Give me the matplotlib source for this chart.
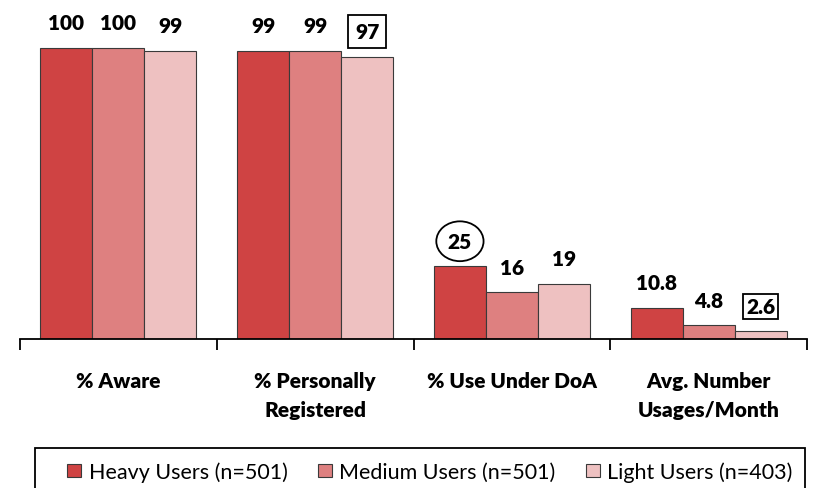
"""
Awareness / usage bar chart by user segment.
"""

import matplotlib
matplotlib.use("Agg")
import matplotlib.pyplot as plt
from matplotlib.patches import Rectangle
import numpy as np

plt.rcParams['font.family'] = ['Lato', 'DejaVu Sans']

categories = ['% Aware', '% Personally\nRegistered', '% Use Under DoA', 'Avg. Number\nUsages/Month']
series_names = ['Heavy Users (n=501)', 'Medium Users (n=501)', 'Light Users (n=403)']
heavy = [100, 99, 25, 10.8]
medium = [100, 99, 16, 4.8]
light = [99, 97, 19, 2.6]
value_text = [['100', '99', '25', '10.8'],
              ['100', '99', '16', '4.8'],
              ['99', '97', '19', '2.6']]
# (series index, category index) -> highlight style
highlights = {(0, 2): 'ellipse,pad=0.22', (2, 1): 'square,pad=0.33', (2, 3): 'square,pad=0.15'}

colors = ['#CF4343', '#DE8080', '#EEC1C1']

W, H = 817, 489
fig = plt.figure(figsize=(W / 100, H / 100), dpi=100)
ax = fig.add_axes([20 / W, (H - 340) / H, (807 - 20) / W, 340 / H])

x = np.arange(len(categories))
bw = 0.264
for i, vals in enumerate([heavy, medium, light]):
    bars = ax.bar(x + (i - 1) * bw, vals, bw, color=colors[i], edgecolor='#3a3a3a',
                  linewidth=0.8, label=series_names[i], zorder=2)
    for j, b in enumerate(bars):
        style = highlights.get((i, j))
        bbox = None
        if style:
            bbox = dict(boxstyle=style, facecolor='white', edgecolor='black', linewidth=1.3)
        ax.annotate(value_text[i][j], (b.get_x() + b.get_width() / 2, b.get_height()),
                    xytext=(0, 18), textcoords='offset points', ha='center', va='center',
                    fontsize=15, fontweight='heavy', bbox=bbox)

ax.set_xlim(-0.5, 3.5)
ax.set_ylim(0, 340 / 2.91)
for s in ['top', 'right', 'left']:
    ax.spines[s].set_visible(False)
ax.spines['bottom'].set_linewidth(1.3)
ax.set_yticks([])

# boundary ticks without labels, category names as minor ticks
ax.set_xticks(np.arange(-0.5, 4, 1))
ax.set_xticklabels([])
ax.tick_params(axis='x', which='major', length=8, width=1.3, direction='out')
ax.set_xticks(x, minor=True)
ax.set_xticklabels(categories, minor=True, fontsize=15, fontweight='heavy', linespacing=1.6)
ax.tick_params(axis='x', which='minor', length=0, pad=23)

# legend
fig.legend(loc='center', bbox_to_anchor=(430 / W, 16 / H), ncol=3, frameon=False,
           fontsize=15.5, handlelength=0.65, handleheight=0.55, handletextpad=0.35,
           columnspacing=1.4, borderpad=0)
fig.patches.append(Rectangle((35 / W, -0.05), (805 - 35) / W, (H - 449) / H + 0.05,
                             transform=fig.transFigure, fill=False, edgecolor='black',
                             linewidth=1.3))

fig.savefig('out.png', dpi=100)
